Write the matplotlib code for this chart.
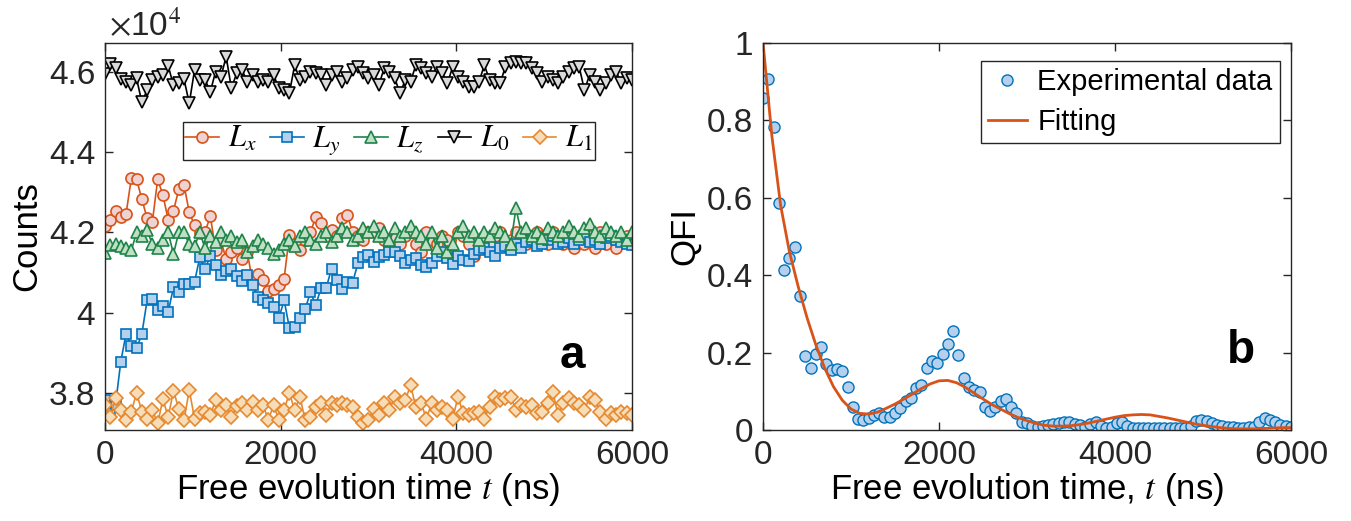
import numpy as np
import matplotlib
matplotlib.use('Agg')
import matplotlib.pyplot as plt
from matplotlib.ticker import FuncFormatter

plt.rcParams['font.family'] = ['Liberation Sans', 'DejaVu Sans']
plt.rcParams['mathtext.fontset'] = 'stix'

# sample times (ns), 60 ns step
t_ns = np.arange(0, 6001, 60)

# panel a: counts in units of 1e4
L_x = [4.216, 4.231, 4.254, 4.239, 4.246, 4.335, 4.332, 4.283, 4.235, 4.227,
       4.332, 4.293, 4.231, 4.254, 4.307, 4.318, 4.25, 4.218, 4.198, 4.202,
       4.24, 4.156, 4.18, 4.133, 4.152, 4.16, 4.133, 4.152, 4.077, 4.096,
       4.081, 4.055, 4.06, 4.069, 4.085, 4.193, 4.17, 4.156, 4.18, 4.2,
       4.239, 4.223, 4.19, 4.206, 4.19, 4.235, 4.243, 4.2, 4.19, 4.18,
       4.2, 4.2, 4.21, 4.18, 4.16, 4.19, 4.17, 4.19, 4.2, 4.17,
       4.15, 4.2, 4.18, 4.17, 4.19, 4.18, 4.14, 4.2, 4.19, 4.17,
       4.14, 4.18, 4.19, 4.17, 4.19, 4.2, 4.17, 4.18, 4.2, 4.19,
       4.17, 4.18, 4.2, 4.19, 4.17, 4.2, 4.18, 4.17, 4.19, 4.16,
       4.18, 4.17, 4.19, 4.16, 4.2, 4.17, 4.19, 4.16, 4.18, 4.19, 4.17]
L_y = [3.782, 3.75, 3.77, 3.878, 3.947, 3.917, 3.911, 3.947, 4.031, 4.034,
       4.006, 4.016, 4.002, 4.063, 4.051, 4.071, 4.071, 4.077, 4.138, 4.11,
       4.141, 4.119, 4.094, 4.105, 4.11, 4.092, 4.08, 4.094, 4.07, 4.04,
       4.031, 4.025, 4.013, 3.986, 4.031, 3.962, 3.965, 3.986, 4.009, 4.051,
       4.019, 4.061, 4.062, 4.11, 4.081, 4.058, 4.077, 4.075, 4.123, 4.139,
       4.144, 4.127, 4.139, 4.144, 4.15, 4.152, 4.14, 4.123, 4.13, 4.135,
       4.12, 4.113, 4.125, 4.14, 4.15, 4.135, 4.121, 4.14, 4.13, 4.129,
       4.145, 4.156, 4.16, 4.15, 4.14, 4.16, 4.165, 4.156, 4.17, 4.16,
       4.175, 4.18, 4.165, 4.17, 4.18, 4.19, 4.17, 4.175, 4.185, 4.17,
       4.18, 4.19, 4.175, 4.18, 4.17, 4.185, 4.19, 4.18, 4.175, 4.17, 4.168]
L_z = [4.148, 4.168, 4.17, 4.165, 4.16, 4.155, 4.2, 4.19, 4.205, 4.17,
       4.16, 4.18, 4.2, 4.146, 4.2, 4.2, 4.17, 4.165, 4.2, 4.16,
       4.19, 4.175, 4.2, 4.18, 4.19, 4.175, 4.18, 4.15, 4.165, 4.18,
       4.17, 4.16, 4.145, 4.155, 4.17, 4.18, 4.165, 4.19, 4.2, 4.18,
       4.17, 4.19, 4.2, 4.175, 4.19, 4.21, 4.2, 4.18, 4.19, 4.21,
       4.2, 4.215, 4.19, 4.2, 4.18, 4.21, 4.19, 4.2, 4.215, 4.2,
       4.19, 4.17, 4.2, 4.16, 4.19, 4.15, 4.17, 4.2, 4.215, 4.19,
       4.2, 4.18, 4.2, 4.19, 4.21, 4.2, 4.19, 4.17, 4.26, 4.2,
       4.21, 4.19, 4.2, 4.185, 4.21, 4.2, 4.19, 4.2, 4.215, 4.2,
       4.19, 4.21, 4.22, 4.2, 4.19, 4.21, 4.2, 4.19, 4.2, 4.18, 4.2]
L_0 = [4.595, 4.62, 4.609, 4.582, 4.576, 4.567, 4.584, 4.524, 4.555, 4.58,
       4.588, 4.593, 4.615, 4.567, 4.572, 4.582, 4.522, 4.605, 4.58, 4.58,
       4.551, 4.601, 4.588, 4.638, 4.559, 4.597, 4.605, 4.576, 4.593, 4.576,
       4.58, 4.576, 4.593, 4.559, 4.555, 4.547, 4.617, 4.58, 4.588, 4.601,
       4.597, 4.593, 4.567, 4.593, 4.601, 4.576, 4.584, 4.605, 4.613, 4.597,
       4.584, 4.593, 4.568, 4.61, 4.601, 4.584, 4.547, 4.58, 4.576, 4.617,
       4.609, 4.597, 4.588, 4.613, 4.597, 4.572, 4.613, 4.588, 4.576, 4.563,
       4.563, 4.576, 4.617, 4.58, 4.572, 4.572, 4.613, 4.622, 4.626, 4.622,
       4.622, 4.609, 4.597, 4.576, 4.588, 4.58, 4.572, 4.588, 4.601, 4.609,
       4.613, 4.555, 4.593, 4.576, 4.555, 4.572, 4.593, 4.601, 4.572, 4.584, 4.58]
L_1 = [3.77, 3.74, 3.786, 3.757, 3.732, 3.753, 3.8, 3.753, 3.736, 3.757,
       3.724, 3.784, 3.74, 3.805, 3.761, 3.732, 3.807, 3.736, 3.75, 3.753,
       3.745, 3.782, 3.757, 3.77, 3.74, 3.767, 3.775, 3.757, 3.778, 3.757,
       3.77, 3.732, 3.77, 3.732, 3.757, 3.8, 3.757, 3.79, 3.732, 3.74,
       3.765, 3.774, 3.745, 3.774, 3.77, 3.774, 3.77, 3.765, 3.74, 3.724,
       3.732, 3.761, 3.745, 3.774, 3.757, 3.79, 3.774, 3.782, 3.819, 3.765,
       3.774, 3.736, 3.774, 3.757, 3.765, 3.757, 3.736, 3.79, 3.749, 3.745,
       3.749, 3.753, 3.736, 3.765, 3.79, 3.782, 3.786, 3.79, 3.757, 3.77,
       3.765, 3.77, 3.749, 3.753, 3.774, 3.803, 3.745, 3.774, 3.786, 3.774,
       3.77, 3.757, 3.79, 3.782, 3.753, 3.736, 3.749, 3.745, 3.753, 3.749, 3.745]

# panel b: QFI
qfi_exp = [0.858, 0.907, 0.783, 0.587, 0.413, 0.444, 0.473, 0.346, 0.19, 0.16,
           0.196, 0.214, 0.17, 0.155, 0.158, 0.153, 0.111, 0.06, 0.028, 0.026,
           0.031, 0.039, 0.044, 0.034, 0.034, 0.044, 0.057, 0.075, 0.082, 0.109,
           0.116, 0.16, 0.178, 0.173, 0.196, 0.222, 0.256, 0.194, 0.134, 0.111,
           0.103, 0.098, 0.06, 0.049, 0.06, 0.075, 0.08, 0.06, 0.044, 0.021,
           0.018, 0.01, 0.008, 0.01, 0.012, 0.015, 0.018, 0.02, 0.02, 0.016,
           0.012, 0.008, 0.015, 0.02, 0.01, 0.004, 0.008, 0.018, 0.02, 0.01,
           0.004, 0.006, 0.005, 0.006, 0.005, 0.005, 0.006, 0.005, 0.004, 0.005,
           0.006, 0.01, 0.022, 0.025, 0.024, 0.018, 0.012, 0.01, 0.008, 0.007,
           0.006, 0.006, 0.007, 0.008, 0.02, 0.03, 0.027, 0.02, 0.012, 0.01, 0.008]
t_fit = np.arange(0, 6001, 100)
qfi_fit = [1.0, 0.76, 0.58, 0.46, 0.37, 0.29, 0.22, 0.16, 0.112, 0.077,
           0.054, 0.043, 0.041, 0.046, 0.056, 0.067, 0.08, 0.093, 0.107, 0.119,
           0.127, 0.128, 0.122, 0.11, 0.095, 0.08, 0.066, 0.054, 0.042, 0.032,
           0.024, 0.017, 0.012, 0.01, 0.01, 0.011, 0.014, 0.018, 0.023, 0.028,
           0.033, 0.037, 0.039, 0.04, 0.039, 0.035, 0.031, 0.026, 0.021, 0.016,
           0.012, 0.009, 0.006, 0.004, 0.003, 0.003, 0.003, 0.004, 0.005, 0.006, 0.006]

fig = plt.figure(figsize=(13.51, 5.21), dpi=100)
ax1 = fig.add_axes([0.0777, 0.1747, 0.390, 0.743])
ax2 = fig.add_axes([0.5648, 0.1747, 0.3908, 0.743])

series = [
    (L_x, r'$L_x$', 'o', '#D95319', '#EFD3D3', 8),
    (L_y, r'$L_y$', 's', '#0072BD', '#B4D0EC', 7),
    (L_z, r'$L_z$', '^', '#1E8449', '#BFE0C4', 8.5),
    (L_0, r'$L_0$', 'v', '#000000', '#D9D9D9', 9),
    (L_1, r'$L_1$', 'D', '#E6892E', '#F6DDB8', 7),
]
for vals, lab, mk, ec, fc, ms in series:
    ax1.plot(t_ns, vals, marker=mk, color=ec, mfc=fc, mec=ec, ms=ms,
             lw=1.2, mew=1.2, label=lab)

ax1.set_xlim(0, 6000)
ax1.set_ylim(3.7075, 4.6725)
ax1.set_xticks([0, 2000, 4000, 6000])
ax1.set_yticks([3.8, 4.0, 4.2, 4.4, 4.6])
ax1.set_xlabel('Free evolution time $t$ (ns)', fontsize=25, labelpad=0)
ax1.set_ylabel('Counts', fontsize=25, labelpad=4)
ax1.text(0.008, 1.0, r'$\times$10$^4$', transform=ax1.transAxes, fontsize=24,
         ha='left', va='bottom', color='#262626')
ax1.text(0.888, 0.19, 'a', transform=ax1.transAxes, fontsize=33,
         fontweight='bold', ha='center', va='center')
leg1 = ax1.legend(ncol=5, loc='upper left', bbox_to_anchor=(0.148, 0.796),
                  borderaxespad=0, fontsize=22, handlelength=1.1,
                  columnspacing=0.45, handletextpad=0.28, borderpad=0.08,
                  fancybox=False, edgecolor='#262626', framealpha=1)
leg1.get_frame().set_linewidth(1.0)

ax2.plot(t_ns, qfi_exp, 'o', ms=8, mfc='#B4D0EC', mec='#0072BD', mew=1.0,
         label='Experimental data')
ax2.plot(t_fit, qfi_fit, '-', color='#D95319', lw=2, label='Fitting')
ax2.set_xlim(0, 6000)
ax2.set_ylim(0, 1)
ax2.set_xticks([0, 2000, 4000, 6000])
ax2.set_yticks([0, 0.2, 0.4, 0.6, 0.8, 1.0])
ax2.set_xlabel('Free evolution time, $t$ (ns)', fontsize=25, labelpad=0)
ax2.set_ylabel('QFI', fontsize=25, labelpad=4)
ax2.text(0.906, 0.204, 'b', transform=ax2.transAxes, fontsize=33,
         fontweight='bold', ha='center', va='center')
leg2 = ax2.legend(loc='upper right', fontsize=21, handlelength=1.35,
                  handletextpad=0.35, borderpad=0.25, labelspacing=0.4,
                  fancybox=False, edgecolor='#262626', framealpha=1,
                  borderaxespad=0, bbox_to_anchor=(0.979, 0.953))
leg2.get_frame().set_linewidth(1.0)

fmt = FuncFormatter(lambda v, p: '%g' % v)
for ax in (ax1, ax2):
    ax.yaxis.set_major_formatter(fmt)
    ax.tick_params(direction='in', top=True, right=True, length=6, pad=7,
                   width=1, labelsize=24, color='#262626', labelcolor='#262626')
    for s in ax.spines.values():
        s.set_color('#262626')
        s.set_linewidth(1.0)

fig.savefig('out.png', dpi=100)
